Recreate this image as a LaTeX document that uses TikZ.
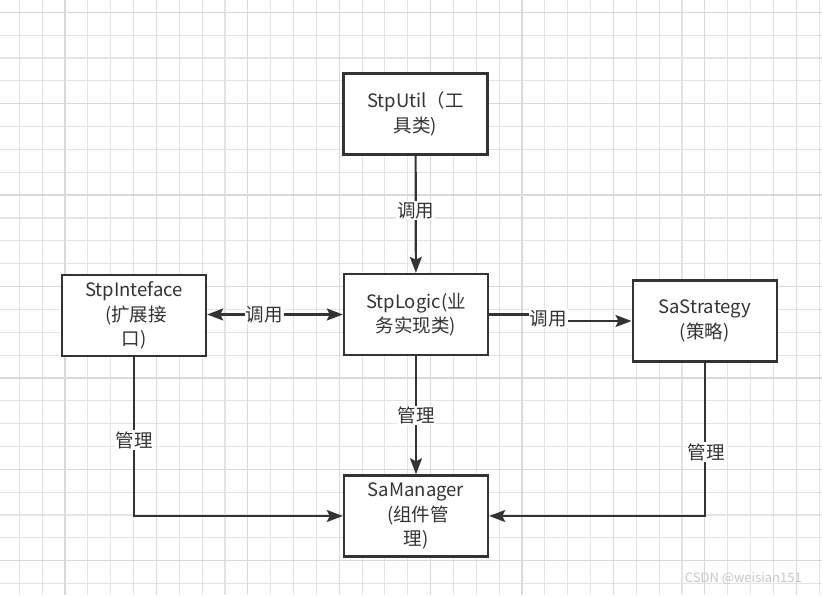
\documentclass[tikz,border=0pt]{standalone}
\usepackage{fontspec}
\setmainfont{Noto Sans CJK SC}
\usetikzlibrary{arrows.meta}
\definecolor{ink}{HTML}{333333}
\definecolor{gminor}{HTML}{E4E4E4}
\definecolor{gmajor}{HTML}{D9D9D9}
\tikzset{
  box/.style={draw=ink, line width=2.4pt, fill=white, minimum width=144pt, minimum height=81pt,
    align=center, text=ink, font=\fontsize{18.5}{24.5}\selectfont, inner sep=2pt},
  conn/.style={draw=ink, line width=2.2pt, -{Stealth[length=16pt,width=12pt,inset=3pt]}},
  lab/.style={fill=white, text=ink, font=\fontsize{18.5}{22}\selectfont, inner sep=1pt},
  minorgrid/.style={draw=gminor, line width=1.1pt},
  majorgrid/.style={draw=gmajor, line width=1.3pt}
}
\begin{document}
\begin{tikzpicture}[x=1pt, y=-1pt]
\useasboundingbox (0,0) rectangle (822,595);
\fill[white] (0,0) rectangle (822,595);
% grid
\foreach \i in {0,...,36} {\draw[minorgrid] ({19.3+22.85*\i},0) -- ({19.3+22.85*\i},595);}
\foreach \i in {-1,...,26} {\draw[minorgrid] (0,{12.3+22.85*\i}) -- (822,{12.3+22.85*\i});}
\foreach \i in {0,...,8} {\draw[majorgrid] ({65+91.4*\i},0) -- ({65+91.4*\i},595);}
\foreach \i in {0,...,6} {\draw[majorgrid] (0,{12.3+91.4*\i}) -- (822,{12.3+91.4*\i});}
% nodes
\node[box] (util) at (415.5,114) {StpUtil（工\\具类)};
\node[box] (iface) at (134,315.5) {StpInteface\\\ (扩展接\\口)};
\node[box] (logic) at (416,314.5) {StpLogic(业\\务实现类)};
\node[box] (strat) at (704.7,321) {SaStrategy\\(策略)};
\node[box] (mgr) at (416,516) {SaManager\\\ (组件管\\理)};
% connectors
\draw[conn] (util) -- node[lab, pos=0.47] {调用} (logic);
\draw[conn, {Stealth[length=16pt,width=12pt,inset=3pt]}-{Stealth[length=16pt,width=12pt,inset=3pt]}]
  (iface.east |- 0,314.5) -- node[lab, pos=0.42] {调用} (logic.west);
\coordinate (j1) at (547,314.5);
\coordinate (j2) at (547,321);
\draw[conn] (logic.east) -- (j1) -- (j2) -- (strat.west);
\node[lab] at (548,318.5) {调用};
\draw[conn] (logic) -- node[lab, pos=0.5] {管理} (mgr);
\coordinate (c1) at (134,516);
\draw[conn] (iface.south) -- (c1) -- (mgr.west);
\node[lab] at (134,440) {管理};
\coordinate (c2) at (704.7,516);
\draw[conn] (strat.south) -- (c2) -- (mgr.east);
\node[lab] at (706,452) {管理};
% watermark
\node[text=black!22, font=\fontsize{13}{15}\selectfont, anchor=east, inner sep=0pt] (wm) at (802,579) {CSDN @weisian151};
\end{tikzpicture}
\end{document}
